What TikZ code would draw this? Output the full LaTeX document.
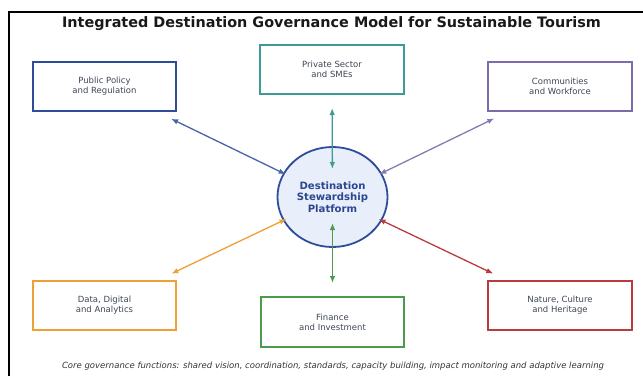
\documentclass[tikz,border=0pt]{standalone}
\usepackage{fontspec}
\setmainfont{DejaVu Sans}
\usetikzlibrary{arrows.meta,shapes.geometric}
\definecolor{cblue}{HTML}{2F4C9A}
\definecolor{cblueA}{HTML}{4A63A8}
\definecolor{cteal}{HTML}{3E9A96}
\definecolor{cpurple}{HTML}{7D6AA8}
\definecolor{corange}{HTML}{EE9F35}
\definecolor{cgreen}{HTML}{4C9A4C}
\definecolor{cred}{HTML}{B83B3E}
\definecolor{chubfill}{HTML}{E8EFFA}
\definecolor{chubtext}{HTML}{2C4690}
\definecolor{ctext}{HTML}{3E4656}
\tikzset{
  boxnode/.style={draw, line width=1.4pt, fill=white, minimum width=143pt, minimum height=49pt,
    align=center, font=\fontsize{8.5}{10.2}\selectfont, text=ctext, inner sep=0pt},
  conn/.style={line width=1.3pt, {Latex[length=7pt,width=5.5pt]}-{Latex[length=7pt,width=5.5pt]}},
}
\begin{document}
\begin{tikzpicture}[x=1pt,y=-1pt]
\useasboundingbox (0,0) rectangle (643,376);
\draw[line width=1.3pt] (9,376) -- (9,12) -- (643,12);
\node[font=\bfseries\fontsize{14.4}{16}\selectfont, text=black!90] (title) at (331.5,24) {Integrated Destination Governance Model for Sustainable Tourism};

\node[ellipse, draw=cblue, line width=1.8pt, fill=chubfill, minimum width=110pt, minimum height=100pt,
  align=center, font=\bfseries\fontsize{10.1}{11.6}\selectfont, text=chubtext, inner sep=0pt] (hub) at (332.5,197)
  {Destination\\Stewardship\\Platform};

\node[boxnode, draw=cblue] (pp) at (104.5,86.5) {Public Policy\\and Regulation};
\node[boxnode, draw=cteal, minimum width=144pt] (ps) at (332,69.5) {Private Sector\\and SMEs};
\node[boxnode, draw=cpurple, minimum width=144pt] (cw) at (560,86.5) {Communities\\and Workforce};
\node[boxnode, draw=corange] (dd) at (104.5,305.5) {Data, Digital\\and Analytics};
\node[boxnode, draw=cgreen, minimum height=50pt] (fi) at (332.5,322) {Finance\\and Investment};
\node[boxnode, draw=cred, minimum width=144pt] (nh) at (560,305.5) {Nature, Culture\\and Heritage};

\draw[conn, cblueA, shorten <=74pt, shorten >=52pt] (pp.center) -- (hub.center);
\draw[conn, cteal, shorten <=38.5pt, shorten >=28pt] (ps.center) -- (hub.center);
\draw[conn, cpurple!90, shorten <=73pt, shorten >=52pt] (cw.center) -- (hub.center);
\draw[conn, corange, shorten <=74pt, shorten >=51pt] (dd.center) -- (hub.center);
\draw[conn, cgreen, shorten <=39pt, shorten >=26pt] (fi.center) -- (hub.center);
\draw[conn, cred, shorten <=74pt, shorten >=51pt] (nh.center) -- (hub.center);

\node[font=\itshape\fontsize{8.5}{10}\selectfont, text=black!80] (cap) at (333,366)
  {Core governance functions: shared vision, coordination, standards, capacity building, impact monitoring and adaptive learning};
\end{tikzpicture}
\end{document}
